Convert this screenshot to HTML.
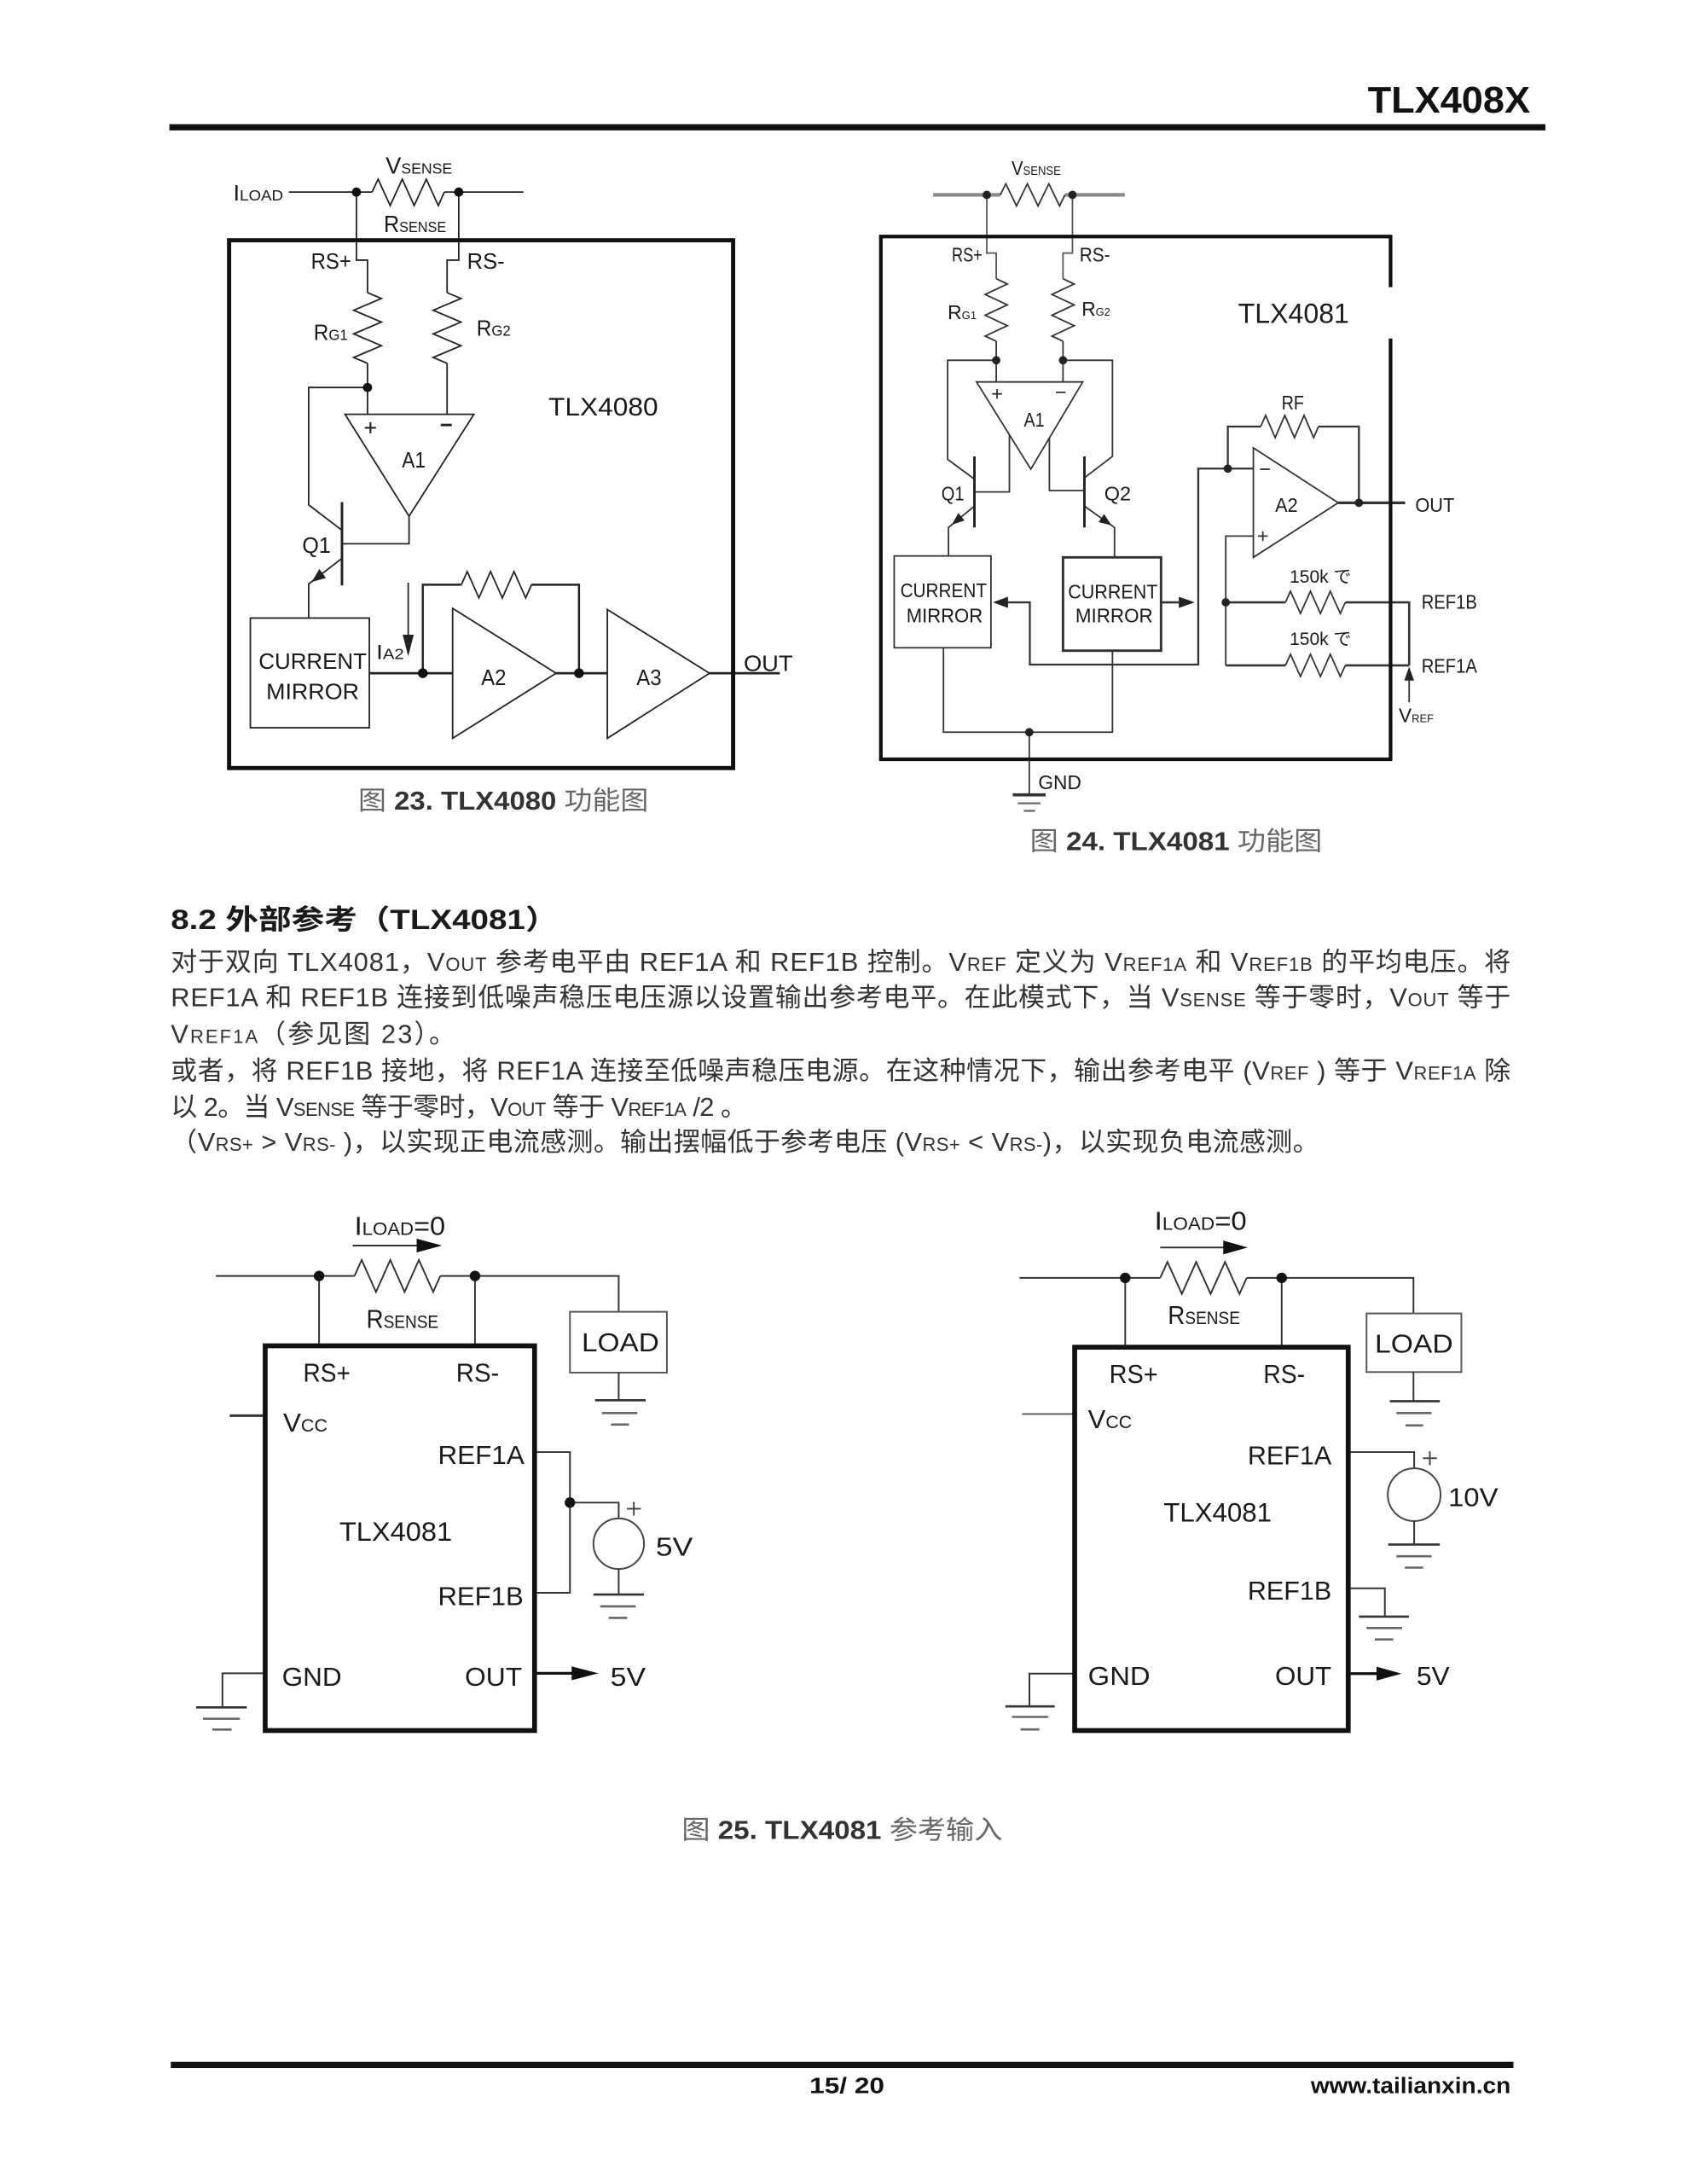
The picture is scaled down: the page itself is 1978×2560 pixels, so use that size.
<!DOCTYPE html>
<html><head><meta charset="utf-8"><style>
html,body{margin:0;padding:0;background:#fff;}
svg{display:block}
text{font-family:"Liberation Sans","Noto Sans CJK SC",sans-serif;}
</style></head><body>
<svg width="1978" height="2560" viewBox="0 0 1215 1572.5" preserveAspectRatio="none" xmlns="http://www.w3.org/2000/svg">
<rect width="1215" height="1572.5" fill="#fff"/>

<!-- HEADER -->
<text x="985" y="81" font-size="27" font-weight="bold" fill="#111" textLength="117" lengthAdjust="spacingAndGlyphs">TLX408X</text>
<rect x="122" y="89.4" width="991" height="4.5" fill="#111"/>

<!-- ================= FIG 23 ================= -->
<g fill="none" stroke="#222" stroke-width="1.1">
  <path d="M208,138.3 H268 M320,138.3 H377"/>
  <polyline points="268,138.3 272.3,129 281,148 289.7,129 298.3,148 307,129 315.7,148 320,138.3"/>
  <path d="M256.7,138.3 V187.3 H264.7 V210.7 M330.4,138.3 V187.3 H322 V210.7"/>
  <polyline points="264.7,210.7 274.7,214.9 254.7,223.4 274.7,231.9 254.7,240.4 274.7,248.9 254.7,257.4 264.7,261.6"/>
  <polyline points="322,210.7 332,214.9 312,223.4 332,231.9 312,240.4 332,248.9 312,257.4 322,261.6"/>
  <path d="M264.7,261.6 V298.3 M322,261.6 V298.3"/>
  <path d="M264.7,279 H222.3 V363.5 L246.3,381.8"/>
  <polygon points="248.5,298.3 341.3,298.3 294.6,371.7"/>
  <path d="M246.3,391.5 H294.6 V371.7"/>
  <path d="M246.3,402 L222.3,420.5 V445"/>
  <rect x="180.3" y="445" width="85.7" height="79"/>
  <path d="M266,484.7 H326" stroke-width="1.7"/>
  <path d="M304.5,484.7 V421 H332.3 M382.8,421 H417 V484.7" stroke-width="1.5"/>
  <polyline points="332.3,421 336.5,411.5 344.9,430.5 353.3,411.5 361.8,430.5 370.2,411.5 378.6,430.5 382.8,421"/>
  <polygon points="326,438 326,531.6 400.5,484.7"/>
  <path d="M400.5,484.7 H437.4" stroke-width="1.7"/>
  <polygon points="437.4,438.9 437.4,531.6 511,484.7"/>
  <path d="M511,484.7 H561.6" stroke-width="1.7"/>
  <path d="M294,419.5 V460"/>
  <path d="M262.8,308 H270.8 M266.8,304 V312" stroke-width="1.3"/>
  <path d="M317.4,306 H325.4" stroke-width="1.8"/>
</g>
<path d="M246.3,361.5 V421.5" stroke="#222" stroke-width="1.8"/>
<polygon points="224.5,419 234.8,416.1 230,409.7" fill="#222"/>
<polygon points="294,472.5 290,457 298,457" fill="#222"/>
<g fill="#111">
  <circle cx="256.7" cy="138.3" r="3.3"/><circle cx="330.4" cy="138.3" r="3.3"/>
  <circle cx="264.7" cy="279" r="3.3"/><circle cx="304.5" cy="484.7" r="3.5"/>
  <circle cx="417" cy="484.7" r="3.5"/>
</g>
<rect x="165" y="173" width="363" height="380" fill="none" stroke="#111" stroke-width="3"/>
<g fill="#1a1a1a">
  <text x="168" y="144.3" textLength="36" lengthAdjust="spacingAndGlyphs"><tspan font-size="16">I</tspan><tspan font-size="11">LOAD</tspan></text>
  <text x="277.7" y="125" textLength="48" lengthAdjust="spacingAndGlyphs"><tspan font-size="17">V</tspan><tspan font-size="11">SENSE</tspan></text>
  <text x="276.4" y="167" textLength="45" lengthAdjust="spacingAndGlyphs"><tspan font-size="17">R</tspan><tspan font-size="11">SENSE</tspan></text>
  <text x="224" y="193.5" font-size="16" textLength="29" lengthAdjust="spacingAndGlyphs">RS+</text>
  <text x="336.4" y="193.5" font-size="16" textLength="27" lengthAdjust="spacingAndGlyphs">RS-</text>
  <text x="225.9" y="244.7" textLength="24.5" lengthAdjust="spacingAndGlyphs"><tspan font-size="16">R</tspan><tspan font-size="11">G1</tspan></text>
  <text x="343.2" y="241.6" textLength="24.6" lengthAdjust="spacingAndGlyphs"><tspan font-size="16">R</tspan><tspan font-size="11">G2</tspan></text>
  <text x="395" y="299" font-size="18" textLength="79" lengthAdjust="spacingAndGlyphs">TLX4080</text>
  <text x="289.5" y="336.5" font-size="16" textLength="17" lengthAdjust="spacingAndGlyphs">A1</text>
  <text x="217.7" y="398" font-size="16" textLength="20.5" lengthAdjust="spacingAndGlyphs">Q1</text>
  <text x="186.3" y="481.6" font-size="16" textLength="77.8" lengthAdjust="spacingAndGlyphs">CURRENT</text>
  <text x="191.7" y="503.3" font-size="16" textLength="66.9" lengthAdjust="spacingAndGlyphs">MIRROR</text>
  <text x="271" y="474.6" textLength="20" lengthAdjust="spacingAndGlyphs"><tspan font-size="15">I</tspan><tspan font-size="11">A2</tspan></text>
  <text x="346.5" y="493.4" font-size="16" textLength="18" lengthAdjust="spacingAndGlyphs">A2</text>
  <text x="458.4" y="493.4" font-size="16" textLength="18" lengthAdjust="spacingAndGlyphs">A3</text>
  <text x="535.6" y="483" font-size="16" textLength="35.4" lengthAdjust="spacingAndGlyphs">OUT</text>
</g>
<text x="258" y="583" font-size="19" fill="#444" textLength="209" lengthAdjust="spacingAndGlyphs"><tspan fill="#666">图 </tspan><tspan font-weight="bold" fill="#333">23. TLX4080</tspan><tspan fill="#666"> 功能图</tspan></text>

<!-- ================= FIG 24 ================= -->
<path d="M672.1,140.3 H720.5 M767,140.3 H810.1" stroke="#8a8a8a" stroke-width="2.6" fill="none"/>
<g fill="none" stroke="#333" stroke-width="1.1">
  <polyline points="720.5,140.3 724.4,132.3 732.1,148.3 739.9,132.3 747.6,148.3 755.4,132.3 763.1,148.3 767,140.3"/>
  <path d="M710.7,140.3 V182.2 H717.5 V200.7 M772.4,140.3 V182.2 H765.6 V200.7" stroke="#555"/>
  <polyline points="717.5,200.7 725.5,204.5 709.5,212 725.5,219.5 709.5,227 725.5,234.5 709.5,242 717.5,245.7"/>
  <polyline points="765.6,200.7 773.6,204.5 757.6,212 773.6,219.5 757.6,227 773.6,234.5 757.6,242 765.6,245.7"/>
  <path d="M717.5,245.7 V275 M765.6,245.7 V275"/>
  <path d="M717.5,259.4 H682.5 V330.7 L701.8,345"/>
  <path d="M765.6,259.4 H801.2 V328.6 L781,344"/>
  <polygon points="703.3,275 779.8,275 742.4,337.8"/>
  <path d="M727,313 V354.2 H701.8 M755.8,315.3 V353.2 H781"/>
  <path d="M701.8,364.4 L683.1,379.8 V400.3 M781,364.4 L802.7,379.8 V401.3"/>
  <rect x="644" y="400.3" width="69.7" height="66.1"/>
  <rect x="765.6" y="401.3" width="70.6" height="67.2" stroke-width="1.8"/>
  <path d="M679.5,466.4 V527.2 H801.2 V468.5"/>
  <path d="M741.3,527.2 V572.3"/>
  <polygon points="902.7,322.5 902.7,401.3 963.8,362"/>
  <path d="M884.3,337.4 H902.7 M884.3,337.4 V307.1 H908 M949.6,307.1 H978.7 V362" stroke-width="1.4"/>
  <polyline points="908,307.1 911.5,299.1 918.4,315.1 925.3,299.1 932.3,315.1 939.2,299.1 946.1,315.1 949.6,307.1"/>
  <path d="M963.8,362 H1012" stroke-width="2"/>
  <path d="M884.3,337.4 H863 V478.5 H741.7 V433.7 H726" stroke-width="1.4"/>
  <path d="M836.2,433.7 H849" stroke-width="1.6"/>
  <path d="M902.7,386 H882.8 V479.1"/>
  <path d="M882.8,433.7 H925.8 M968.9,433.7 H1014.9 V479.1 M882.8,479.1 H925.8 M968.9,479.1 H1014.9" stroke-width="1.6"/>
  <polyline points="925.8,433.7 929.4,425.7 936.6,441.7 943.8,425.7 951,441.7 958.1,425.7 965.3,441.7 968.9,433.7"/>
  <polyline points="925.8,479.1 929.4,471.1 936.6,487.1 943.8,471.1 951,487.1 958.1,471.1 965.3,487.1 968.9,479.1"/>
  <path d="M1014.9,489 V505.7"/>
  <path d="M714.6,283.6 H721.6 M718.1,280.1 V287.1 M760.5,282.5 H767.5"/>
  <path d="M907.5,337.8 H914.5 M906,386 H913 M909.5,382.5 V389.5"/>
</g>
<path d="M701.8,328.6 V379.8 M781,328.6 V379.8" stroke="#222" stroke-width="1.8"/>
<path d="M729.4,572.3 H753.1" stroke="#333" stroke-width="2.2"/>
<path d="M733,578.4 H749.3 M737.4,583.8 H745.4" stroke="#777" stroke-width="1.6"/>
<path d="M1001.5,206.8 V170.3 H634.4 V546.7 H1001.5 V243.7" fill="none" stroke="#111" stroke-width="2.6"/>
<g fill="#222">
  <polygon points="685.5,377.8 694.7,374.8 690.2,369.4"/>
  <polygon points="800.5,378.2 791.2,375.9 795.2,370.1"/>
  <polygon points="715.1,433.7 726,429.7 726,437.7"/>
  <polygon points="860.5,433.7 849,429.7 849,437.7"/>
  <polygon points="1014.9,480.1 1011.4,490 1018.4,490"/>
  <circle cx="710.7" cy="140.3" r="3"/><circle cx="772.4" cy="140.3" r="3"/>
  <circle cx="717.5" cy="259.4" r="3"/><circle cx="765.6" cy="259.4" r="3"/>
  <circle cx="884.3" cy="337.4" r="3"/><circle cx="978.7" cy="362" r="3"/>
  <circle cx="882.8" cy="433.7" r="3"/><circle cx="741.3" cy="527.2" r="3"/>
</g>
<g fill="#1a1a1a">
  <text x="728.5" y="125.9" textLength="35.5" lengthAdjust="spacingAndGlyphs"><tspan font-size="14">V</tspan><tspan font-size="9">SENSE</tspan></text>
  <text x="685.5" y="188.4" font-size="14" textLength="22" lengthAdjust="spacingAndGlyphs">RS+</text>
  <text x="777.5" y="188.4" font-size="14" textLength="22" lengthAdjust="spacingAndGlyphs">RS-</text>
  <text x="682.5" y="229.7" textLength="20.8" lengthAdjust="spacingAndGlyphs"><tspan font-size="14">R</tspan><tspan font-size="8">G1</tspan></text>
  <text x="779" y="227.3" textLength="20.7" lengthAdjust="spacingAndGlyphs"><tspan font-size="14">R</tspan><tspan font-size="8">G2</tspan></text>
  <text x="891.7" y="232.4" font-size="20" textLength="80" lengthAdjust="spacingAndGlyphs">TLX4081</text>
  <text x="737.4" y="307" font-size="14" textLength="14.8" lengthAdjust="spacingAndGlyphs">A1</text>
  <text x="923" y="294.8" font-size="14" textLength="16.2" lengthAdjust="spacingAndGlyphs">RF</text>
  <text x="918.4" y="368.5" font-size="14" textLength="16.3" lengthAdjust="spacingAndGlyphs">A2</text>
  <text x="1019.3" y="368.5" font-size="14" textLength="28.2" lengthAdjust="spacingAndGlyphs">OUT</text>
  <text x="678" y="360.4" font-size="14" textLength="16.4" lengthAdjust="spacingAndGlyphs">Q1</text>
  <text x="795.3" y="360.4" font-size="14" textLength="19.3" lengthAdjust="spacingAndGlyphs">Q2</text>
  <text x="648.4" y="430" font-size="14" textLength="62.3" lengthAdjust="spacingAndGlyphs">CURRENT</text>
  <text x="652.8" y="448" font-size="14" textLength="54.9" lengthAdjust="spacingAndGlyphs">MIRROR</text>
  <text x="769.2" y="431" font-size="14" textLength="64.6" lengthAdjust="spacingAndGlyphs">CURRENT</text>
  <text x="774.5" y="448" font-size="14" textLength="55.8" lengthAdjust="spacingAndGlyphs">MIRROR</text>
  <text x="928.8" y="419.7" font-size="13" textLength="44.5" lengthAdjust="spacingAndGlyphs">150k で</text>
  <text x="928.8" y="464.4" font-size="13" textLength="44.5" lengthAdjust="spacingAndGlyphs">150k で</text>
  <text x="1023.8" y="438.2" font-size="14" textLength="40" lengthAdjust="spacingAndGlyphs">REF1B</text>
  <text x="1023.8" y="484.2" font-size="14" textLength="40" lengthAdjust="spacingAndGlyphs">REF1A</text>
  <text x="1007.4" y="520" textLength="25.2" lengthAdjust="spacingAndGlyphs"><tspan font-size="14">V</tspan><tspan font-size="8">REF</tspan></text>
  <text x="747.8" y="568.2" font-size="14" textLength="31" lengthAdjust="spacingAndGlyphs">GND</text>
</g>
<text x="741.8" y="612" font-size="19" fill="#444" textLength="210.5" lengthAdjust="spacingAndGlyphs"><tspan fill="#666">图 </tspan><tspan font-weight="bold" fill="#333">24. TLX4081</tspan><tspan fill="#666"> 功能图</tspan></text>

<!-- ================= TEXT SECTION ================= -->
<text x="123" y="669" font-size="20" font-weight="bold" fill="#1a1a1a" textLength="279" lengthAdjust="spacingAndGlyphs">8.2 外部参考（TLX4081）</text>
<g fill="#333" font-size="19">
  <text x="123" y="699" textLength="965" lengthAdjust="spacing">对于双向 TLX4081，V<tspan font-size="13.5">OUT</tspan> 参考电平由 REF1A 和 REF1B 控制。V<tspan font-size="13.5">REF</tspan> 定义为 V<tspan font-size="13.5">REF1A</tspan> 和 V<tspan font-size="13.5">REF1B</tspan> 的平均电压。将</text>
  <text x="123" y="724.5" textLength="965" lengthAdjust="spacing">REF1A 和 REF1B 连接到低噪声稳压电压源以设置输出参考电平。在此模式下，当 V<tspan font-size="13.5">SENSE</tspan> 等于零时，V<tspan font-size="13.5">OUT</tspan> 等于</text>
  <text x="123" y="751" textLength="205" lengthAdjust="spacing">V<tspan font-size="13.5">REF1A</tspan>（参见图 23）。</text>
  <text x="123" y="777.5" textLength="965" lengthAdjust="spacing">或者，将 REF1B 接地，将 REF1A 连接至低噪声稳压电源。在这种情况下，输出参考电平 (V<tspan font-size="13.5">REF</tspan> ) 等于 V<tspan font-size="13.5">REF1A</tspan> 除</text>
  <text x="123" y="803.5" textLength="415" lengthAdjust="spacing">以 2。当 V<tspan font-size="13.5">SENSE</tspan> 等于零时，V<tspan font-size="13.5">OUT</tspan> 等于 V<tspan font-size="13.5">REF1A</tspan> /2 。</text>
  <text x="123" y="828.5" textLength="827" lengthAdjust="spacing">（V<tspan font-size="13.5">RS+</tspan> &gt; V<tspan font-size="13.5">RS-</tspan> )，以实现正电流感测。输出摆幅低于参考电压 (V<tspan font-size="13.5">RS+</tspan> &lt; V<tspan font-size="13.5">RS-</tspan>)，以实现负电流感测。</text>
</g>

<!-- ================= FIG 25 LEFT ================= -->
<g fill="none" stroke="#333" stroke-width="1.2">
  <path d="M155.4,918.7 H255.3 M317.1,918.7 H445.6 V944.5"/>
  <polyline points="255.3,918.7 260.5,907.2 270.8,930.2 281.1,907.2 291.4,930.2 301.7,907.2 312,930.2 317.1,918.7"/>
  <path d="M229.8,918.7 V969 M342.1,918.7 V969"/>
  <rect x="410.5" y="944.5" width="69.8" height="43.8" stroke="#555"/>
  <path d="M445.6,988.3 V1008.2"/>
  <path d="M165.5,1019.3 H191" stroke-width="1.8"/>
  <path d="M385,1045.5 H410.5 V1146.8 H385"/>
  <path d="M410.5,1081.9 H445.6 V1093.3"/>
  <circle cx="445.6" cy="1111.5" r="18.2" stroke="#444"/>
  <path d="M445.6,1129.7 V1148.1"/>
  <path d="M191,1204.8 H160.2 V1229.3"/>
  <path d="M254,896.8 H302"/>
  <path d="M451.5,1086.3 H461.5 M456.5,1081.3 V1091.3" stroke="#444"/>
  <path d="M428.6,1008.2 H465 M141.3,1229.3 H177.7 M427.4,1148.1 H463.8" stroke-width="1.6"/>
  <path d="M433.5,1017.4 H459 M440,1025.7 H453 M432.3,1156.6 H457.8 M438.4,1164.9 H451.7 M146.1,1237.5 H172.8 M152.9,1245.3 H166.8" stroke="#666" stroke-width="1.6"/>
</g>
<path d="M385,1204.8 H412" stroke="#111" stroke-width="2"/>
<g fill="#111">
  <polygon points="300.1,891.8 318.3,896.8 300.1,901.8"/>
  <polygon points="411.7,1199.8 431,1204.8 411.7,1209.8"/>
  <circle cx="229.8" cy="918.7" r="3.8"/><circle cx="342.1" cy="918.7" r="3.8"/>
  <circle cx="410.5" cy="1081.9" r="3.8"/>
</g>
<rect x="191" y="969" width="194" height="277" fill="none" stroke="#111" stroke-width="3.5"/>
<g fill="#1a1a1a">
  <text x="255.3" y="889" textLength="65.4" lengthAdjust="spacingAndGlyphs"><tspan font-size="19">I</tspan><tspan font-size="13">LOAD</tspan><tspan font-size="19">=0</tspan></text>
  <text x="263.8" y="956" textLength="52" lengthAdjust="spacingAndGlyphs"><tspan font-size="19">R</tspan><tspan font-size="13">SENSE</tspan></text>
  <text x="418.9" y="972.9" font-size="19" textLength="55.8" lengthAdjust="spacingAndGlyphs">LOAD</text>
  <text x="218.4" y="994.8" font-size="19" textLength="34" lengthAdjust="spacingAndGlyphs">RS+</text>
  <text x="328.5" y="994.8" font-size="19" textLength="31" lengthAdjust="spacingAndGlyphs">RS-</text>
  <text x="203.9" y="1030.8" textLength="32" lengthAdjust="spacingAndGlyphs"><tspan font-size="19">V</tspan><tspan font-size="13">CC</tspan></text>
  <text x="315.4" y="1054" font-size="19" textLength="62.3" lengthAdjust="spacingAndGlyphs">REF1A</text>
  <text x="244.4" y="1109.4" font-size="19.5" textLength="81.2" lengthAdjust="spacingAndGlyphs">TLX4081</text>
  <text x="472.3" y="1120" font-size="19" textLength="26.7" lengthAdjust="spacingAndGlyphs">5V</text>
  <text x="315.4" y="1155.8" font-size="19" textLength="61.6" lengthAdjust="spacingAndGlyphs">REF1B</text>
  <text x="203.1" y="1213.8" font-size="19" textLength="43" lengthAdjust="spacingAndGlyphs">GND</text>
  <text x="334.8" y="1213.8" font-size="19" textLength="41.2" lengthAdjust="spacingAndGlyphs">OUT</text>
  <text x="439.6" y="1213.8" font-size="19" textLength="25.4" lengthAdjust="spacingAndGlyphs">5V</text>
</g>

<!-- ================= FIG 25 RIGHT ================= -->
<g fill="none" stroke="#333" stroke-width="1.2">
  <path d="M734.2,920.1 H835.6 M897.9,920.1 H1018 V945.7"/>
  <polyline points="835.6,920.1 840.8,908.6 851.2,931.6 861.5,908.6 871.9,931.6 882.3,908.6 892.7,931.6 897.9,920.1"/>
  <path d="M810.4,920.1 V970 M923.1,920.1 V970"/>
  <rect x="984.2" y="945.7" width="68.3" height="42.2" stroke="#555"/>
  <path d="M1018,987.9 V1008.9"/>
  <path d="M736.1,1018.1 H774" stroke="#555"/>
  <path d="M971,1045.5 H1018.5 V1057.2"/>
  <circle cx="1018.5" cy="1076.2" r="19" stroke="#444"/>
  <path d="M1018.5,1095.2 V1112.1"/>
  <path d="M971,1143.6 H997.4 V1164"/>
  <path d="M774,1205 H741.4 V1228.6"/>
  <path d="M835.6,898.2 H883"/>
  <path d="M1024.8,1049.9 H1034.8 M1029.8,1044.9 V1054.9" stroke="#444"/>
  <path d="M1001,1008.9 H1037 M999.8,1112.1 H1037 M978.7,1164 H1014.7 M724.1,1228.6 H759.6" stroke-width="1.6"/>
  <path d="M1005.8,1017.4 H1031 M1012.3,1026.3 H1025 M1005.8,1120.5 H1031 M1011.8,1128.7 H1025 M984.2,1172.2 H1009.8 M990.2,1180.4 H1003.4 M728.9,1236.2 H754.8 M735,1245.2 H748.6" stroke="#666" stroke-width="1.6"/>
</g>
<path d="M971,1205 H992" stroke="#111" stroke-width="2"/>
<g fill="#111">
  <polygon points="881,893.2 898.6,898.2 881,903.2"/>
  <polygon points="991.4,1200 1009.4,1205 991.4,1210"/>
  <circle cx="810.4" cy="920.1" r="3.8"/><circle cx="923.1" cy="920.1" r="3.8"/>
</g>
<rect x="774" y="970" width="197" height="276" fill="none" stroke="#111" stroke-width="3.5"/>
<g fill="#1a1a1a">
  <text x="831.5" y="885.5" textLength="66.4" lengthAdjust="spacingAndGlyphs"><tspan font-size="19">I</tspan><tspan font-size="13">LOAD</tspan><tspan font-size="19">=0</tspan></text>
  <text x="841.1" y="953.4" textLength="52" lengthAdjust="spacingAndGlyphs"><tspan font-size="19">R</tspan><tspan font-size="13">SENSE</tspan></text>
  <text x="990.2" y="973.8" font-size="19" textLength="56.3" lengthAdjust="spacingAndGlyphs">LOAD</text>
  <text x="798.9" y="995.6" font-size="19" textLength="35" lengthAdjust="spacingAndGlyphs">RS+</text>
  <text x="909.9" y="995.6" font-size="19" textLength="30" lengthAdjust="spacingAndGlyphs">RS-</text>
  <text x="783.6" y="1028.4" textLength="31.6" lengthAdjust="spacingAndGlyphs"><tspan font-size="19">V</tspan><tspan font-size="13">CC</tspan></text>
  <text x="898.6" y="1054.5" font-size="19" textLength="60.4" lengthAdjust="spacingAndGlyphs">REF1A</text>
  <text x="1043" y="1084.5" font-size="19" textLength="36" lengthAdjust="spacingAndGlyphs">10V</text>
  <text x="838" y="1095.4" font-size="19.5" textLength="77.9" lengthAdjust="spacingAndGlyphs">TLX4081</text>
  <text x="898.6" y="1151.8" font-size="19" textLength="60.4" lengthAdjust="spacingAndGlyphs">REF1B</text>
  <text x="783.6" y="1213.2" font-size="19" textLength="44.8" lengthAdjust="spacingAndGlyphs">GND</text>
  <text x="918.3" y="1213.2" font-size="19" textLength="40.7" lengthAdjust="spacingAndGlyphs">OUT</text>
  <text x="1020.2" y="1213.2" font-size="19" textLength="23.9" lengthAdjust="spacingAndGlyphs">5V</text>
</g>

<text x="491" y="1324" font-size="19" fill="#444" textLength="231" lengthAdjust="spacingAndGlyphs"><tspan fill="#666">图 </tspan><tspan font-weight="bold" fill="#333">25. TLX4081</tspan><tspan fill="#666"> 参考输入</tspan></text>

<!-- FOOTER -->
<rect x="123" y="1484.5" width="967" height="4.5" fill="#111"/>
<text x="583" y="1507" font-size="16" font-weight="bold" fill="#111" textLength="54" lengthAdjust="spacingAndGlyphs">15/ 20</text>
<text x="944" y="1507" font-size="16" font-weight="bold" fill="#111" textLength="144" lengthAdjust="spacingAndGlyphs">www.tailianxin.cn</text>
</svg>
</body></html>
